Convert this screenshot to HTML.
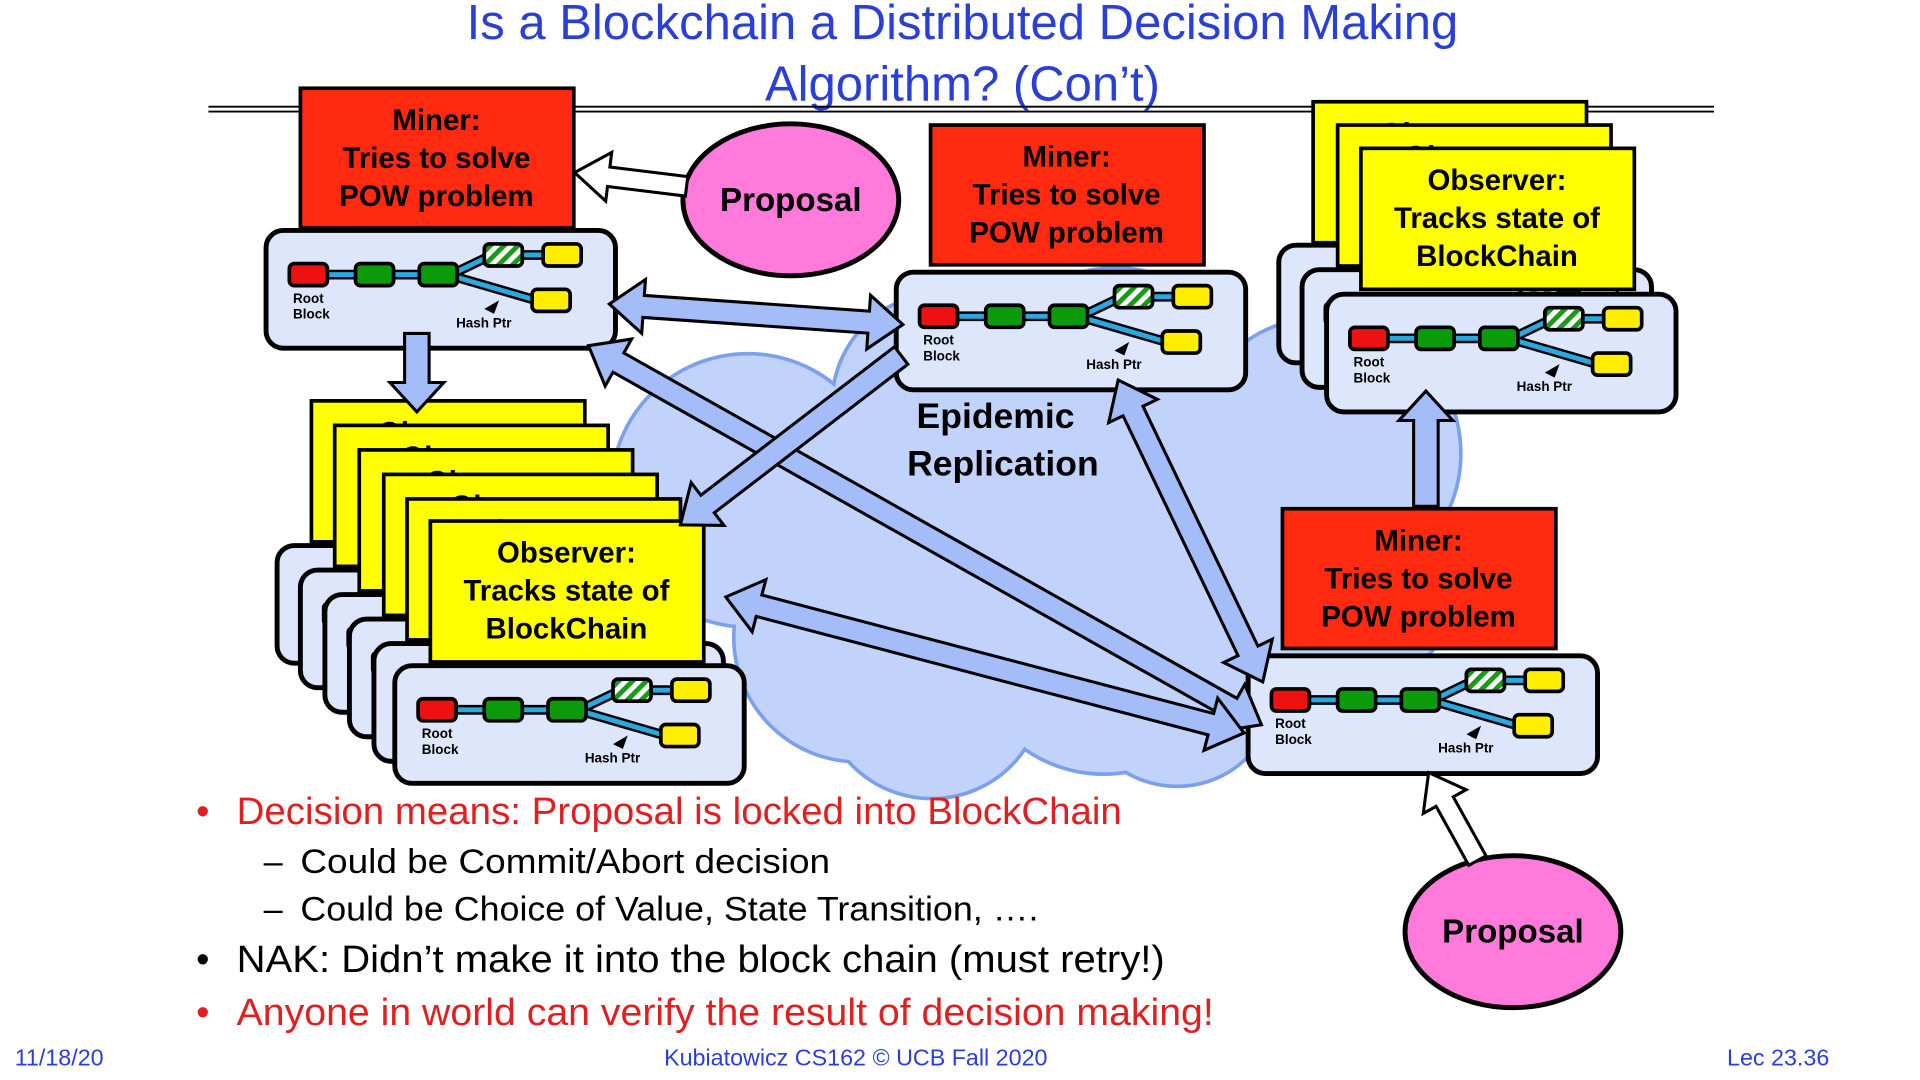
<!DOCTYPE html>
<html><head><meta charset="utf-8"><style>
html,body{margin:0;padding:0;background:#fff;width:1920px;height:1080px;overflow:hidden}
svg{display:block}
text{font-family:"Liberation Sans",sans-serif}
</style></head><body>
<svg width="1920" height="1080" viewBox="0 0 1566 881" preserveAspectRatio="none" xmlns="http://www.w3.org/2000/svg">
<defs>
<pattern id="hatch" width="8" height="8" patternUnits="userSpaceOnUse" patternTransform="rotate(45)">
<rect width="8" height="8" fill="#fff"/><rect width="4" height="8" fill="#1a9a1a"/></pattern>
<g id="chain">
<rect x="0" y="0" width="285" height="96" rx="14" fill="#dde6fb" stroke="#000" stroke-width="4"/>
<g stroke="#000" stroke-width="8" fill="none" stroke-linecap="round">
<line x1="226" y1="20" x2="208" y2="20"/><line x1="180" y1="22" x2="155" y2="34"/><line x1="217" y1="56" x2="155" y2="38"/>
<line x1="125" y1="36" x2="103" y2="36"/><line x1="73" y1="36" x2="50" y2="36"/></g>
<g stroke="#2aa8e0" stroke-width="4" fill="none">
<line x1="226" y1="20" x2="208" y2="20"/><line x1="180" y1="22" x2="155" y2="34"/><line x1="217" y1="56" x2="155" y2="38"/>
<line x1="125" y1="36" x2="103" y2="36"/><line x1="73" y1="36" x2="50" y2="36"/></g>
<g stroke="#000" stroke-width="3">
<rect x="19" y="27" width="31" height="18" rx="4" fill="#ee1111"/>
<rect x="73" y="27" width="31" height="18" rx="4" fill="#0a9a0a"/>
<rect x="125" y="27" width="31" height="18" rx="4" fill="#0a9a0a"/>
<rect x="178" y="11" width="31" height="18" rx="4" fill="url(#hatch)"/>
<rect x="226" y="11" width="31" height="18" rx="4" fill="#ffee00"/>
<rect x="217" y="48" width="31" height="18" rx="4" fill="#ffee00"/>
</g>
<polygon points="178,64 190,57 186,68" fill="#000"/>
<text x="22" y="59" font-size="11" font-weight="bold">Root</text>
<text x="22" y="72" font-size="11" font-weight="bold">Block</text>
<text x="155" y="79" font-size="11" font-weight="bold">Hash Ptr</text>
</g>
<g id="obs">
<rect x="0" y="0" width="223" height="115" fill="#ffff00" stroke="#000" stroke-width="3"/>
<text x="111" y="34" font-size="24" font-weight="bold" text-anchor="middle">Observer:</text>
<text x="111" y="65" font-size="24" font-weight="bold" text-anchor="middle">Tracks state of</text>
<text x="111" y="96" font-size="24" font-weight="bold" text-anchor="middle">BlockChain</text>
</g>
<g id="miner">
<rect x="0" y="0" width="223" height="114" fill="#ff2a10" stroke="#000" stroke-width="3"/>
<text x="111" y="34" font-size="24" font-weight="bold" text-anchor="middle">Miner:</text>
<text x="111" y="65" font-size="24" font-weight="bold" text-anchor="middle">Tries to solve</text>
<text x="111" y="96" font-size="24" font-weight="bold" text-anchor="middle">POW problem</text>
</g>
</defs>

<!-- title -->
<text x="785" y="32" font-size="40" fill="#2a3fd6" text-anchor="middle">Is a Blockchain a Distributed Decision Making</text>
<text x="785" y="82" font-size="40" fill="#2a3fd6" text-anchor="middle">Algorithm? (Con’t)</text>
<line x1="170" y1="87" x2="1398" y2="87" stroke="#000" stroke-width="1.5"/>
<line x1="170" y1="91" x2="1398" y2="91" stroke="#000" stroke-width="1.5"/>

<!-- cloud -->
<g fill="#7da0ee">
<circle cx="610" cy="400" r="113"/><circle cx="770" cy="330" r="93"/><circle cx="910" cy="330" r="113"/>
<circle cx="1080" cy="370" r="113"/><circle cx="700" cy="520" r="103"/><circle cx="900" cy="520" r="113"/>
<circle cx="1100" cy="470" r="93"/><circle cx="760" cy="560" r="93"/><circle cx="960" cy="560" r="83"/></g>
<g fill="#c2d3fb">
<circle cx="610" cy="400" r="110"/><circle cx="770" cy="330" r="90"/><circle cx="910" cy="330" r="110"/>
<circle cx="1080" cy="370" r="110"/><circle cx="700" cy="520" r="100"/><circle cx="900" cy="520" r="110"/>
<circle cx="1100" cy="470" r="90"/><circle cx="760" cy="560" r="90"/><circle cx="960" cy="560" r="80"/>
<ellipse cx="850" cy="440" rx="250" ry="150"/></g>
<text x="812" y="349" font-size="29" font-weight="bold" text-anchor="middle">Epidemic</text>
<text x="818" y="388" font-size="29" font-weight="bold" text-anchor="middle">Replication</text>

<!-- top-left -->
<use href="#miner" x="245" y="72"/>
<use href="#chain" x="217" y="188"/>
<!-- middle -->
<use href="#miner" x="759" y="102"/>
<use href="#chain" x="731" y="222"/>
<!-- left stack -->
<use href="#chain" x="226" y="445"/><use href="#chain" x="245" y="465"/><use href="#chain" x="265" y="485"/>
<use href="#chain" x="285" y="505"/><use href="#chain" x="305" y="525"/>
<use href="#obs" x="254" y="327"/><use href="#obs" x="273" y="347"/><use href="#obs" x="293" y="367"/>
<use href="#obs" x="313" y="387"/><use href="#obs" x="332" y="407"/><use href="#obs" x="351" y="425"/>
<use href="#chain" x="322" y="543"/>
<!-- right stack -->
<use href="#chain" x="1043" y="200"/><use href="#chain" x="1062" y="220"/>
<use href="#obs" x="1071" y="83"/><use href="#obs" x="1091" y="102"/><use href="#obs" x="1110" y="121"/>
<use href="#chain" x="1082" y="240"/>
<!-- bottom right -->
<use href="#miner" x="1046" y="415"/>
<use href="#chain" x="1018" y="535"/>

<!-- proposals -->
<ellipse cx="645" cy="163" rx="88" ry="62" fill="#ff7ada" stroke="#000" stroke-width="4"/>
<text x="645" y="172" font-size="27" font-weight="bold" text-anchor="middle">Proposal</text>
<ellipse cx="1234" cy="760" rx="88" ry="62" fill="#ff7ada" stroke="#000" stroke-width="4"/>
<text x="1234" y="769" font-size="27" font-weight="bold" text-anchor="middle">Proposal</text>

<!-- arrows -->
<g fill="#a4bcf7" stroke="#000" stroke-width="2.5" stroke-linejoin="miter">
<path transform="translate(497,248) rotate(4)" d="M0,0 L28,-22 L28,-9 L212,-9 L212,-22 L240,0 L212,22 L212,9 L28,9 L28,22 Z"/>
<path transform="translate(480,282) rotate(29.4)" d="M0,0 L28,-22 L28,-9 L602,-9 L602,-22 L630,0 L602,22 L602,9 L28,9 L28,22 Z"/>
<path transform="translate(735,290) rotate(142.5)" d="M0,-9 L199,-9 L199,-22 L227,0 L199,22 L199,9 L0,9 Z"/>
<path transform="translate(912,310) rotate(64.4)" d="M0,0 L28,-22 L28,-9 L245,-9 L245,-22 L273,0 L245,22 L245,9 L28,9 L28,22 Z"/>
<path transform="translate(592,487) rotate(14.7)" d="M0,0 L28,-22 L28,-9 L409,-9 L409,-22 L437,0 L409,22 L409,9 L28,9 L28,22 Z"/>
<path transform="translate(340,272) rotate(90)" d="M0,-10 L40,-10 L40,-22 L64,0 L40,22 L40,10 L0,10 Z"/>
<path transform="translate(1163,413) rotate(-90)" d="M0,-10 L70,-10 L70,-22 L94,0 L70,22 L70,10 L0,10 Z"/>
</g>
<g fill="#fff" stroke="#000" stroke-width="2.5">
<path transform="translate(560,152) rotate(-173)" d="M0,-8 L64,-8 L64,-20 L92,0 L64,20 L64,8 L0,8 Z"/>
<path transform="translate(1205,702) rotate(-119)" d="M0,-8 L55,-8 L55,-20 L82,0 L55,20 L55,8 L0,8 Z"/>
</g>

<!-- bullets -->
<g font-size="31">
<text x="160" y="672" fill="#e02020">•</text><text x="193" y="672" fill="#e02020" textLength="722" lengthAdjust="spacingAndGlyphs">Decision means: Proposal is locked into BlockChain</text>
<text x="215" y="712" font-size="28">–</text><text x="245" y="712" font-size="28" textLength="432" lengthAdjust="spacingAndGlyphs">Could be Commit/Abort decision</text>
<text x="215" y="751" font-size="28">–</text><text x="245" y="751" font-size="28" textLength="602" lengthAdjust="spacingAndGlyphs">Could be Choice of Value, State Transition, ….</text>
<text x="160" y="793">•</text><text x="193" y="793" textLength="757" lengthAdjust="spacingAndGlyphs">NAK: Didn’t make it into the block chain (must retry!)</text>
<text x="160" y="836" fill="#e02020">•</text><text x="193" y="836" fill="#e02020" textLength="797" lengthAdjust="spacingAndGlyphs">Anyone in world can verify the result of decision making!</text>
</g>
<text x="12" y="869" font-size="19" fill="#2a3fd6">11/18/20</text>
<text x="698" y="869" font-size="19" fill="#2a3fd6" text-anchor="middle">Kubiatowicz CS162 © UCB Fall 2020</text>
<text x="1492" y="869" font-size="19" fill="#2a3fd6" text-anchor="end">Lec 23.36</text>
</svg>
</body></html>
